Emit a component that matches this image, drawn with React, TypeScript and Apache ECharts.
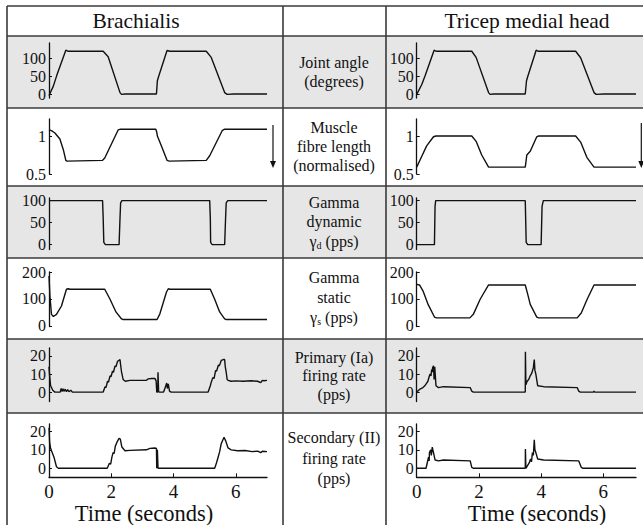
import React, { useEffect, useRef } from 'react';
import * as echarts from 'echarts';

const FONT = 'Liberation Serif, Times New Roman, serif';

// ---------- text content ----------
const columnTitles = ['Brachialis', 'Tricep medial head'];
const rowLabels: string[][] = [
  ['Joint angle', '(degrees)'],
  ['Muscle', 'fibre length', '(normalised)'],
  ['Gamma', 'dynamic', '{g|γ}{s|d}{g| (pps)}'],
  ['Gamma', 'static', '{g|γ}{s|s}{g| (pps)}'],
  ['Primary (Ia)', 'firing rate', '(pps)'],
  ['Secondary (II)', 'firing rate', '(pps)'],
];
const xAxisTitle = 'Time (seconds)';
const xTicks = [0, 2, 4, 6];
const yTicks: number[][] = [
  [0, 50, 100],
  [0.5, 1],
  [0, 50, 100],
  [0, 100, 200],
  [0, 10, 20],
  [0, 10, 20],
];
const yRanges: number[][] = [
  [-10, 143],
  [0.5, 1.224],
  [-11, 106],
  [-2, 200],
  [-5.2, 24.4],
  [-4.9, 24],
];
const xMax = [7, 7.05];

// ---------- Brachialis series [time (s), value] ----------
const bracAngle = [[0,-3],[0.14,23],[0.25,53],[0.54,123],[0.62,120],[1.74,120],[1.9,105],[2.28,5],[2.33,0],[2.44,1],[3.45,1],[3.48,38],[3.52,50],[3.79,122],[3.88,120],[5.05,120],[5.21,103],[5.64,5],[5.72,0],[5.93,1],[7.0,1]];
const bracLength = [[0,1.08],[0.08,1.07],[0.19,1.04],[0.35,0.96],[0.46,0.82],[0.54,0.68],[0.58,0.67],[1.72,0.68],[1.79,0.71],[2.22,1.08],[2.3,1.09],[3.43,1.09],[3.46,1.05],[3.48,1.0],[3.61,0.87],[3.79,0.68],[3.86,0.67],[5.05,0.68],[5.16,0.74],[5.56,1.07],[5.64,1.09],[7.0,1.09]];
const bracGammaD = [[0,100],[1.72,100],[1.74,60],[1.76,5],[1.81,0],[2.25,0],[2.28,60],[2.30,95],[2.34,100],[5.16,100],[5.18,60],[5.19,5],[5.24,0],[5.64,0],[5.67,60],[5.69,95],[5.74,100],[7,100]];
const bracGammaS = [[0,185],[0.03,110],[0.08,43],[0.14,35],[0.24,43],[0.4,74],[0.56,136],[0.62,138],[0.67,136],[1.79,136],[1.96,99],[2.15,52],[2.33,26],[2.38,24],[3.47,24],[3.56,45],[3.77,125],[3.83,138],[3.88,136],[5.18,136],[5.32,99],[5.48,52],[5.64,26],[5.69,24],[7,24]];
const bracIa = [[0,14],[0.02,9],[0.05,3.7],[0.12,1],[0.19,0],[0.36,0],[0.39,2],[0.42,0.3],[0.45,1.8],[0.48,0.4],[0.52,1.6],[0.56,0.3],[0.6,1.4],[0.64,0.2],[0.7,1],[0.75,0],[1.74,0],[1.8,3],[1.83,2.5],[1.88,6],[1.91,5.5],[1.96,9],[1.99,8.5],[2.04,11.5],[2.07,11],[2.12,14.5],[2.15,14],[2.2,17],[2.24,17.5],[2.28,18],[2.3,15],[2.33,11],[2.38,7],[2.45,6],[2.6,6.5],[3.13,6.5],[3.18,7.3],[3.3,7.5],[3.4,7.6],[3.44,6.2],[3.46,0],[3.49,0],[3.5,11],[3.52,0.5],[3.53,0],[3.68,0],[3.74,3],[3.78,5],[3.8,2],[3.83,4.5],[3.87,0.5],[3.92,0],[5.11,0],[5.18,3.5],[5.21,5.5],[5.26,8],[5.3,7.5],[5.35,12],[5.38,11.5],[5.44,15],[5.47,14.5],[5.53,17.5],[5.6,18],[5.64,18],[5.66,14],[5.69,11],[5.72,7],[5.75,6.5],[5.85,6],[6.0,6.2],[6.23,6],[6.5,6.3],[6.7,6],[6.8,5.2],[6.85,6.5],[6.9,6.3],[7,6.5]];
const bracII = [[0,22],[0.02,14],[0.05,11],[0.08,9.5],[0.16,6],[0.24,0.8],[0.3,0],[1.87,0],[1.94,2.7],[1.98,2.2],[2.02,6],[2.06,8.6],[2.09,8],[2.13,12],[2.19,14.4],[2.25,16.2],[2.29,15.8],[2.34,11.5],[2.44,9.5],[2.6,9.7],[3.13,10],[3.24,10.8],[3.4,11],[3.45,10.7],[3.46,0],[3.48,10],[3.5,0],[3.53,0],[5.32,0],[5.38,3],[5.43,6],[5.48,9],[5.53,13.3],[5.62,16.8],[5.67,15],[5.75,11],[5.85,10],[6.06,9.5],[6.3,9.6],[6.52,9],[6.7,9.3],[6.8,8.5],[6.85,9.2],[7,9]];

// ---------- Tricep medial head series ----------
const triAngle = [[0,0],[0.16,27],[0.27,52],[0.56,123],[0.62,120],[1.77,120],[1.91,103],[2.31,5],[2.36,0],[2.46,1],[3.49,1],[3.53,38],[3.57,50],[3.84,123],[3.9,120],[5.11,120],[5.27,102],[5.7,5],[5.77,0],[6.02,1],[7.05,1]];
const triLength = [[0,0.59],[0.16,0.73],[0.32,0.87],[0.54,0.99],[0.62,1.0],[1.77,1.0],[1.91,0.93],[2.09,0.75],[2.31,0.59],[2.36,0.59],[3.49,0.59],[3.54,0.75],[3.65,0.80],[3.86,0.99],[3.92,1.0],[5.11,1.0],[5.27,0.92],[5.47,0.72],[5.7,0.59],[7.05,0.59]];
const triGammaD = [[0,0],[0.57,0],[0.59,87],[0.61,100],[3.49,100],[3.52,5],[3.57,0],[4.0,0],[4.03,87],[4.07,100],[7.05,100]];
const triGammaS = [[0,154],[0.09,152],[0.21,128],[0.37,79],[0.57,33],[0.64,30],[1.71,30],[1.82,43],[2.04,99],[2.31,152],[3.49,152],[3.57,117],[3.65,80],[3.86,33],[3.92,30],[5.16,30],[5.29,48],[5.48,99],[5.7,152],[7.05,152]];
const triIa = [[0,0],[0.09,1.5],[0.2,2.5],[0.26,3.5],[0.32,5],[0.36,6],[0.4,8.5],[0.43,10],[0.46,9],[0.48,12.5],[0.5,11],[0.51,13.5],[0.54,14.5],[0.56,7],[0.58,14],[0.62,3.5],[0.7,2.5],[0.86,3],[1.72,2.5],[1.77,0.5],[1.82,0],[3.49,0],[3.495,22.3],[3.51,4],[3.55,6],[3.6,7],[3.65,9],[3.7,10.5],[3.75,13.5],[3.78,18],[3.8,12],[3.83,10],[3.89,3.5],[4.08,3],[5.16,2.5],[5.21,0.5],[5.26,0],[5.68,0],[5.7,0.5],[5.72,0],[7.05,0]];
const triII = [[0,0],[0.3,0],[0.34,3],[0.38,6],[0.4,4],[0.41,8.5],[0.45,10],[0.47,7],[0.5,11.5],[0.54,8.5],[0.59,4.5],[0.7,4],[0.86,4.5],[1.72,4],[1.77,0.5],[1.82,0],[3.49,0],[3.495,10.5],[3.51,0],[3.62,3],[3.66,5],[3.69,3.5],[3.72,8.5],[3.75,7],[3.78,15.5],[3.8,10],[3.83,8.5],[3.89,5],[4.08,4.5],[5.21,4],[5.29,0.5],[5.35,0],[7.05,0]];

const seriesByColumn = [
  [bracAngle, bracLength, bracGammaD, bracGammaS, bracIa, bracII],
  [triAngle, triLength, triGammaD, triGammaS, triIa, triII],
];

// ---------- layout (pixels) ----------
const W = 643;
const H = 525;
const colLeft = [49, 416.7];
const colWidth = [218, 219.3];
const rowTop = [43, 119, 198, 272, 348, 424];
const rowHeight = [55, 55, 51.5, 54.5, 53.5, 53.3];
const tableTop = 6;
const tableLeft = 7;
const colDividers = [283, 386];
const rowDividers = [36, 108, 186, 258, 339, 413];
const shadedRows = [0, 2, 4];
const labelCenterX = 334;
const labelLineY = [[62, 81], [127, 146, 165], [202, 221, 241], [277, 297, 317], [357, 375, 394], [437, 458, 478]];
const titleX = [136, 527];
const xTitleX = [144, 537];

const INK = '#111';
const BORDER = '#3a3a3a';
const SHADE = '#e6e6e6';

export default function App() {
  const ref = useRef<HTMLDivElement>(null);

  useEffect(() => {
    document.body.style.margin = '0';
    const chart = echarts.init(ref.current as HTMLDivElement, null, { renderer: 'svg' });

    const grids: any[] = [];
    const xAxes: any[] = [];
    const yAxes: any[] = [];
    const series: any[] = [];

    for (let c = 0; c < 2; c++) {
      for (let r = 0; r < 6; r++) {
        const idx = grids.length;
        grids.push({
          left: colLeft[c], top: rowTop[r], width: colWidth[c], height: rowHeight[r],
          containLabel: false, outerBoundsMode: 'none',
        });
        const isBottom = r === 5;
        xAxes.push({
          type: 'value', gridIndex: idx, min: 0, max: xMax[c], show: isBottom,
          axisLine: { show: true, onZero: false, lineStyle: { color: INK, width: 1.3 } },
          axisTick: { show: true, inside: true, length: 4, customValues: xTicks, lineStyle: { color: INK, width: 1 } },
          axisLabel: { customValues: xTicks, margin: 5, fontSize: 19, fontFamily: FONT, color: INK },
          splitLine: { show: false },
        });
        yAxes.push({
          type: 'value', gridIndex: idx, min: yRanges[r][0], max: yRanges[r][1],
          axisLine: { show: true, onZero: false, lineStyle: { color: INK, width: 1.3 } },
          axisTick: { show: true, inside: true, length: 3, customValues: yTicks[r], lineStyle: { color: INK, width: 1 } },
          axisLabel: { customValues: yTicks[r], margin: 3, fontSize: 16, fontFamily: FONT, color: INK },
          splitLine: { show: false },
        });
        series.push({
          type: 'line', xAxisIndex: idx, yAxisIndex: idx,
          data: seriesByColumn[c][r],
          showSymbol: false, symbol: 'none', silent: true, clip: false,
          lineStyle: { color: INK, width: 1.4 },
          z: 5,
        });
      }
    }

    const graphics: any[] = [];
    shadedRows.forEach((r) => {
      graphics.push({
        type: 'rect', z: -10, silent: true,
        shape: { x: tableLeft, y: rowDividers[r], width: W - tableLeft, height: rowDividers[r + 1] - rowDividers[r] },
        style: { fill: SHADE },
      });
    });
    const lineStyle = { stroke: BORDER, lineWidth: 1.6 };
    [tableTop, ...rowDividers].forEach((y) => {
      graphics.push({ type: 'line', z: 1, silent: true, shape: { x1: tableLeft, y1: y, x2: W, y2: y }, style: lineStyle });
    });
    [tableLeft, ...colDividers].forEach((x) => {
      graphics.push({ type: 'line', z: 1, silent: true, shape: { x1: x, y1: tableTop, x2: x, y2: H }, style: lineStyle });
    });
    columnTitles.forEach((t, c) => {
      graphics.push({
        type: 'text', z: 3, silent: true, x: titleX[c], y: 21,
        style: { text: t, fill: INK, fontSize: 21.5, fontFamily: FONT, align: 'center', verticalAlign: 'middle' },
      });
    });
    rowLabels.forEach((lines, r) => {
      lines.forEach((txt, k) => {
        graphics.push({
          type: 'text', z: 3, silent: true, x: labelCenterX, y: labelLineY[r][k],
          style: {
            text: txt, fill: INK, fontSize: 16, fontFamily: FONT, align: 'center', verticalAlign: 'middle',
            rich: {
              g: { fontSize: 16, fontFamily: FONT, fill: INK, lineHeight: 18 },
              s: { fontSize: 10, fontFamily: FONT, fill: INK, lineHeight: 18, verticalAlign: 'bottom', padding: [6, 0, 0, 0] },
            },
          },
        });
      });
    });
    xTitleX.forEach((x) => {
      graphics.push({
        type: 'text', z: 3, silent: true, x, y: 513,
        style: { text: xAxisTitle, fill: INK, fontSize: 22.5, fontFamily: FONT, align: 'center', verticalAlign: 'middle' },
      });
    });
    [[273, 125, 168], [641.3, 123, 168]].forEach(([x, y1, y2]) => {
      graphics.push({ type: 'line', z: 3, silent: true, shape: { x1: x, y1, x2: x, y2: y2 - 5 }, style: { stroke: INK, lineWidth: 1.2 } });
      graphics.push({ type: 'polygon', z: 3, silent: true, shape: { points: [[x - 3, y2 - 7], [x + 3, y2 - 7], [x, y2]] }, style: { fill: INK } });
    });

    chart.setOption({
      animation: false,
      backgroundColor: '#ffffff',
      grid: grids,
      xAxis: xAxes,
      yAxis: yAxes,
      series,
      graphic: { elements: graphics },
    });

    return () => chart.dispose();
  }, []);

  return <div ref={ref} style={{ width: W, height: H }} />;
}
